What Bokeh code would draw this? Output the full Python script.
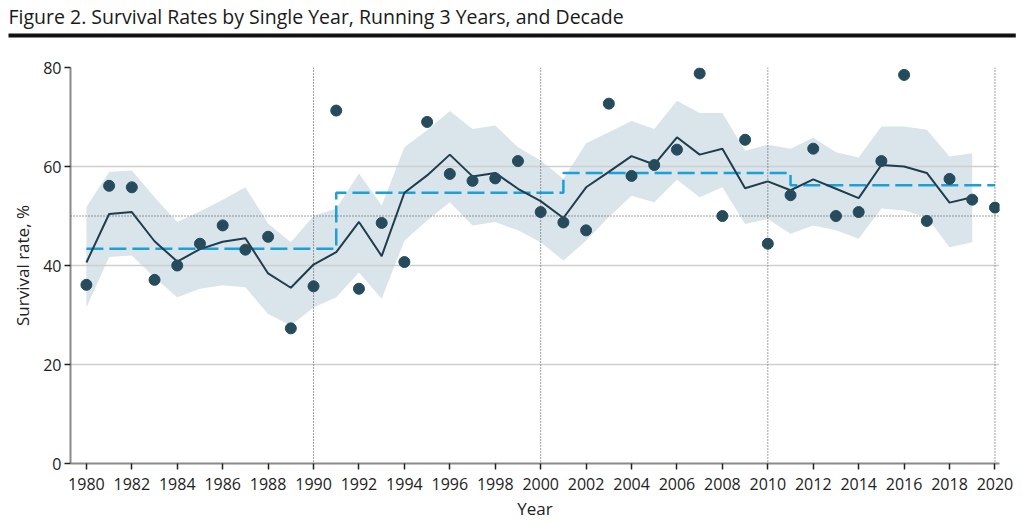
from bokeh.plotting import figure
from bokeh.models import Range1d, FixedTicker, Span, Title
from bokeh.embed import file_html
from bokeh.resources import INLINE

years = list(range(1980, 2021))
single_year = [36.1, 56.1, 55.8, 37.1, 40.0, 44.4, 48.1, 43.2, 45.8, 27.3,
               35.8, 71.3, 35.3, 48.6, 40.7, 69.0, 58.5, 57.1, 57.6, 61.1,
               50.8, 48.7, 47.1, 72.7, 58.1, 60.3, 63.4, 78.8, 50.0, 65.4,
               44.4, 54.2, 63.6, 50.0, 50.8, 61.1, 78.5, 49.0, 57.5, 53.3,
               51.7]
run_years = list(range(1980, 2020))
running3 = [40.6, 50.4, 50.8, 44.9, 40.8, 43.3, 44.8, 45.5, 38.4, 35.5,
            40.2, 42.7, 48.8, 41.9, 54.7, 58.2, 62.4, 58.0, 58.7, 55.5,
            53.0, 49.6, 55.8, 58.9, 62.1, 60.4, 65.9, 62.4, 63.6, 55.6,
            57.0, 55.2, 57.4, 55.5, 53.6, 60.3, 60.0, 58.7, 52.7, 53.8]
ci_upper = [51.8, 58.9, 59.2, 53.8, 48.8, 50.9, 53.3, 55.8, 48.5, 44.7,
            50.0, 51.5, 58.6, 52.1, 63.9, 67.3, 71.2, 67.6, 68.3, 63.9,
            61.2, 57.5, 64.7, 66.9, 69.2, 67.6, 73.3, 70.8, 70.8, 63.2,
            64.4, 63.6, 65.8, 62.9, 61.8, 68.1, 68.1, 67.4, 62.0, 62.7]
ci_lower = [31.5, 41.7, 42.0, 37.6, 33.6, 35.3, 36.0, 35.6, 30.2, 27.9,
            31.5, 33.6, 38.6, 33.3, 45.0, 49.1, 52.8, 48.1, 48.8, 47.1,
            44.7, 41.0, 45.0, 49.8, 54.1, 52.8, 57.3, 53.8, 55.8, 48.4,
            49.4, 46.4, 48.1, 47.1, 45.4, 51.5, 51.1, 49.8, 43.7, 44.7]
decade_starts = [1980, 1991, 2001, 2011, 2020]
decade_values = [43.4, 54.7, 58.7, 56.2, 56.2]
x_ticks = list(range(1980, 2021, 2))
y_ticks = [0, 20, 40, 60, 80]
ref_years = [1990, 2000, 2010, 2020]
ref_rate = 50

title_text = "Figure 2. Survival Rates by Single Year, Running 3 Years, and Decade"

FONT = "Open Sans"
FRAME_W, FRAME_H = 929, 396
LEFT = 70


def set_padding(model, left, right, top, bottom):
    try:
        model.padding = dict(left=left, right=right, top=top, bottom=bottom)
    except Exception:
        model.padding = max(top, bottom)


p = figure(output_backend="svg", toolbar_location=None, title=None,
           frame_width=FRAME_W, frame_height=FRAME_H,
           x_range=Range1d(1979.3, 2020.2), y_range=Range1d(0, 80),
           min_border_left=LEFT, min_border_top=67,
           min_border_right=24, min_border_bottom=40)
p.outline_line_color = None
p.background_fill_color = "white"

# blank spacer strip between the frame and the rule
spacer = Title(text=" ", text_font_size="1px", text_color="white",
               standoff=0)
set_padding(spacer, 0, 0, 13, 14)
p.add_layout(spacer, "above")

# rule under the title (a blank title strip with a dark background)
rule = Title(text=" ", text_font_size="1px", text_color="#111111",
             background_fill_color="#111111", align="left", offset=8 - LEFT,
             standoff=0)
set_padding(rule, 0, 1007, 1, 2)
p.add_layout(rule, "above")

head = Title(text=title_text, text_font=FONT, text_font_size="19.5px",
             text_font_style="normal", text_color="#1a1a1a", align="left",
             vertical_align="top", offset=8 - LEFT, standoff=0)
p.add_layout(head, "above")

band = p.varea(x=run_years, y1=ci_lower, y2=ci_upper, fill_color="#d9e4eb")
band.level = "image"

p.add_layout(Span(location=ref_rate, dimension="width", line_color="#444444",
                  line_dash="1 2", line_width=1))
for yr in ref_years:
    p.add_layout(Span(location=yr, dimension="height", line_color="#444444",
                      line_dash="1 2", line_width=1))

p.step(x=decade_starts, y=decade_values, mode="after", line_color="#1ba0d8",
       line_width=2.5, line_dash="17 6")

p.line(x=run_years, y=running3, line_color="#1f3d4d", line_width=2)

p.scatter(x=years, y=single_year, size=11, fill_color="#254b5d",
          line_color="#254b5d")

for ax in (p.xaxis[0], p.yaxis[0]):
    ax.axis_line_color = "#8a8a8a"
    ax.axis_line_width = 2
    ax.major_tick_line_color = "#222222"
    ax.major_tick_line_width = 1.5
    ax.major_tick_out = 6
    ax.major_tick_in = 0
    ax.minor_tick_line_color = None
    ax.major_label_text_font = FONT
    ax.major_label_text_font_size = "16px"
    ax.major_label_text_color = "#222222"
    ax.axis_label_text_font = FONT
    ax.axis_label_text_font_size = "17px"
    ax.axis_label_text_font_style = "normal"
    ax.axis_label_text_color = "#222222"

p.xaxis.ticker = FixedTicker(ticks=x_ticks)
p.yaxis.ticker = FixedTicker(ticks=y_ticks)
p.xaxis.axis_label = "Year"
p.yaxis.axis_label = "Survival rate, %"
p.xaxis.major_label_standoff = 8
p.yaxis.major_label_standoff = 3
p.xaxis.axis_label_standoff = 4
p.yaxis.axis_label_standoff = 6

p.xgrid.grid_line_color = None
p.ygrid.grid_line_color = "#cfcfcf"
p.ygrid.grid_line_width = 1.5
p.ygrid.ticker = FixedTicker(ticks=[20, 40, 60, 80])

open("out.html", "w").write(file_html(p, INLINE))
